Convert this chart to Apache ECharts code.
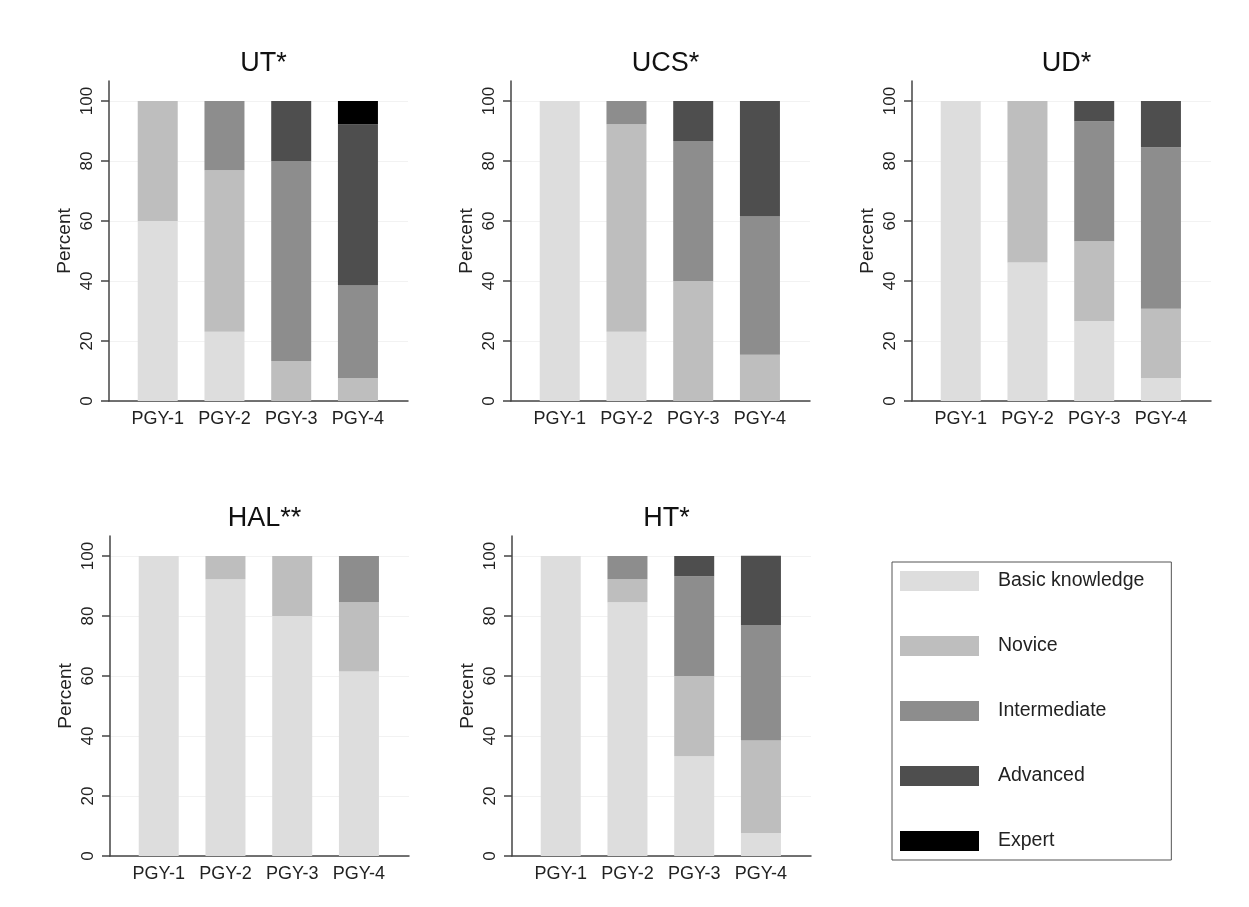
<!DOCTYPE html>
<html>
<head>
<meta charset="utf-8">
<title>Competency by PGY</title>
<script src="https://cdn.jsdelivr.net/npm/echarts@6/dist/echarts.min.js"></script>
<style>
  html, body { margin: 0; padding: 0; background: #fff; }
  #main { width: 1249px; height: 907px; }
</style>
</head>
<body>
<div id="main"></div>
<script>
// categories + levels
const years = ['PGY-1', 'PGY-2', 'PGY-3', 'PGY-4']
const levels = ['Basic knowledge', 'Novice', 'Intermediate', 'Advanced', 'Expert']
const levelColors = ['#dddddd', '#bebebe', '#8d8d8d', '#4e4e4e', '#000000']
const yTicks = [0, 20, 40, 60, 80, 100]
const titles = ['UT*', 'UCS*', 'UD*', 'HAL**', 'HT*']

// percent per level (rows) and year (cols)
const ut = [
  [60, 23.1, 0, 0],
  [40, 53.8, 13.3, 7.7],
  [0, 23.1, 66.7, 30.8],
  [0, 0, 20, 53.8],
  [0, 0, 0, 7.7],
]
const ucs = [
  [100, 23.1, 0, 0],
  [0, 69.2, 40, 15.4],
  [0, 7.7, 46.7, 46.1],
  [0, 0, 13.3, 38.5],
  [0, 0, 0, 0],
]
const ud = [
  [100, 46.2, 26.7, 7.7],
  [0, 53.8, 26.6, 23.1],
  [0, 0, 40, 53.8],
  [0, 0, 6.7, 15.4],
  [0, 0, 0, 0],
]
const hal = [
  [100, 92.3, 80, 61.5],
  [0, 7.7, 20, 23.1],
  [0, 0, 0, 15.4],
  [0, 0, 0, 0],
  [0, 0, 0, 0],
]
const ht = [
  [100, 84.6, 33.3, 7.7],
  [0, 7.7, 26.7, 30.8],
  [0, 7.7, 33.3, 38.5],
  [0, 0, 6.7, 23.1],
  [0, 0, 0, 0],
]
const panels = [ut, ucs, ud, hal, ht]

// panel placement (px)
const panelPos = [
  { left: 109, top: 81 },
  { left: 511, top: 81 },
  { left: 912, top: 81 },
  { left: 110, top: 536 },
  { left: 512, top: 536 },
]
const plotW = 299
const plotH = 320
const font = '"Liberation Sans", Arial, Helvetica, sans-serif'

const chart = echarts.init(document.getElementById('main'))

const grid = [], xAxis = [], yAxis = [], series = [], title = []
panelPos.forEach((p, i) => {
  grid.push({ left: p.left, top: p.top, width: plotW, height: plotH })
  title.push({
    text: titles[i],
    left: p.left + plotW / 2,
    top: p.top - 36,
    textAlign: 'center',
    textStyle: { fontFamily: font, fontSize: 27, fontWeight: 'normal', color: '#111' },
  })
  xAxis.push({
    type: 'value',
    gridIndex: i,
    min: 0.27,
    max: 4.75,
    splitLine: { show: false },
    axisTick: { show: false },
    axisLine: { lineStyle: { color: '#444', width: 1.5 } },
    axisLabel: {
      customValues: [1, 2, 3, 4],
      formatter: v => years[Math.round(v) - 1],
      color: '#222',
      fontFamily: font,
      fontSize: 18,
      margin: 9,
    },
  })
  yAxis.push({
    type: 'value',
    gridIndex: i,
    min: 0,
    max: 106.7,
    name: 'Percent',
    nameLocation: 'middle',
    nameGap: 35,
    nameTextStyle: { fontFamily: font, fontSize: 19, color: '#222' },
    axisLine: { show: true, lineStyle: { color: '#444', width: 1.5 } },
    axisTick: { show: true, length: 8, customValues: yTicks, lineStyle: { color: '#444', width: 1.5 } },
    axisLabel: {
      customValues: yTicks,
      rotate: 90,
      color: '#222',
      fontFamily: font,
      fontSize: 17,
      margin: 13,
    },
    splitLine: { show: true, lineStyle: { color: '#f2f2f2', width: 1 } },
  })
  panels[i].forEach((row, l) => {
    // value first so the stack runs on y
    series.push({
      type: 'bar',
      name: levels[l],
      xAxisIndex: i,
      yAxisIndex: i,
      stack: 'p' + i,
      barWidth: 40,
      encode: { x: 1, y: 0 },
      itemStyle: { color: levelColors[l] },
      data: row.map((v, k) => [v, k + 1]),
    })
  })
})

const option = {
  backgroundColor: '#fff',
  animation: false,
  title: title,
  grid: grid,
  xAxis: xAxis,
  yAxis: yAxis,
  legend: {
    data: levels.map(n => ({ name: n, icon: 'rect' })),
    orient: 'vertical',
    left: 892,
    top: 562,
    padding: [9, 27, 9, 8],
    itemWidth: 79,
    itemHeight: 20,
    itemGap: 45,
    borderColor: '#555',
    borderWidth: 1,
    selectedMode: false,
    textStyle: { fontFamily: font, fontSize: 19.5, color: '#222', padding: [0, 0, 0, 14] },
  },
  series: series,
}
chart.setOption(option)
</script>
</body>
</html>
